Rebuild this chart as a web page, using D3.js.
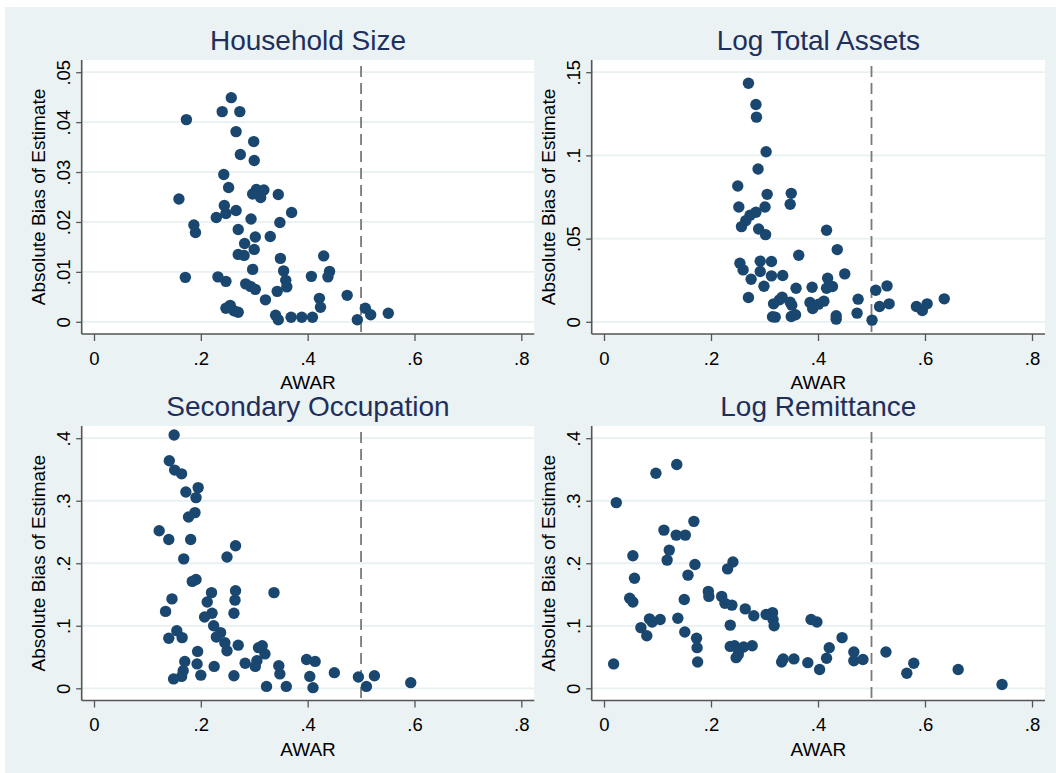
<!DOCTYPE html>
<html>
<head>
<meta charset="utf-8">
<script src="https://cdn.jsdelivr.net/npm/d3@7"></script>
<style>
  html, body { margin: 0; padding: 0; background: #ffffff; }
  svg { display: block; }
  text { font-family: "Liberation Sans", Arial, Helvetica, sans-serif; }
</style>
</head>
<body>
<svg id="chart" width="1056" height="773"></svg>
<script>
// ---------------- DATA ----------------
const panelTitles = ["Household Size", "Log Total Assets", "Secondary Occupation", "Log Remittance"];
const xTickValues = [0, 0.2, 0.4, 0.6, 0.8];
const xTickLabels = ["0", ".2", ".4", ".6", ".8"];
const yTicksHousehold = [0, 0.01, 0.02, 0.03, 0.04, 0.05];
const yLabelsHousehold = ["0", ".01", ".02", ".03", ".04", ".05"];
const yTicksAssets = [0, 0.05, 0.1, 0.15];
const yLabelsAssets = ["0", ".05", ".1", ".15"];
const yTicksOccupation = [0, 0.1, 0.2, 0.3, 0.4];
const yLabelsOccupation = ["0", ".1", ".2", ".3", ".4"];
const yTicksRemittance = [0, 0.1, 0.2, 0.3, 0.4];
const yLabelsRemittance = ["0", ".1", ".2", ".3", ".4"];
const referenceLine = 0.5;
const xAxisTitle = "AWAR";
const yAxisTitle = "Absolute Bias of Estimate";

const householdSize = [
  [0.257,0.0449],[0.240,0.0421],[0.273,0.0421],[0.173,0.0405],[0.266,0.0381],[0.299,0.0361],
  [0.274,0.0335],[0.300,0.0323],[0.243,0.0295],[0.252,0.0269],[0.304,0.0265],[0.318,0.0264],
  [0.297,0.0256],[0.312,0.0249],[0.345,0.0255],[0.159,0.0246],[0.244,0.0233],[0.247,0.0217],
  [0.266,0.0223],[0.229,0.0209],[0.294,0.0206],[0.370,0.0219],[0.348,0.0199],[0.187,0.0194],
  [0.190,0.0179],[0.270,0.0185],[0.302,0.0170],[0.330,0.0171],[0.282,0.0157],[0.300,0.0145],
  [0.270,0.0135],[0.281,0.0133],[0.349,0.0127],[0.430,0.0132],[0.297,0.0105],[0.355,0.0102],
  [0.441,0.0101],[0.438,0.0090],[0.171,0.0089],[0.232,0.0090],[0.247,0.0081],[0.407,0.0091],
  [0.359,0.0083],[0.361,0.0070],[0.284,0.0076],[0.293,0.0071],[0.302,0.0065],[0.343,0.0061],
  [0.474,0.0053],[0.321,0.0044],[0.422,0.0047],[0.424,0.0029],[0.247,0.0027],[0.255,0.0033],
  [0.262,0.0022],[0.270,0.0019],[0.340,0.0013],[0.345,0.0004],[0.369,0.0009],[0.389,0.0009],
  [0.409,0.0009],[0.493,0.0004],[0.508,0.0027],[0.518,0.0014],[0.551,0.0017]
];
const logTotalAssets = [
  [0.270,0.1434],[0.284,0.1306],[0.285,0.1230],[0.303,0.1022],[0.288,0.0918],[0.250,0.0816],
  [0.305,0.0766],[0.350,0.0772],[0.348,0.0706],[0.252,0.0690],[0.301,0.0690],[0.284,0.0658],
  [0.273,0.0640],[0.265,0.0608],[0.257,0.0572],[0.289,0.0558],[0.302,0.0524],[0.416,0.0550],
  [0.436,0.0434],[0.364,0.0400],[0.254,0.0352],[0.260,0.0312],[0.292,0.0364],[0.313,0.0362],
  [0.292,0.0302],[0.275,0.0256],[0.313,0.0276],[0.334,0.0278],[0.450,0.0288],[0.299,0.0214],
  [0.418,0.0262],[0.416,0.0202],[0.427,0.0212],[0.389,0.0208],[0.359,0.0202],[0.270,0.0146],
  [0.333,0.0148],[0.328,0.0132],[0.348,0.0118],[0.317,0.0108],[0.315,0.0030],[0.320,0.0028],
  [0.350,0.0032],[0.358,0.0042],[0.351,0.0100],[0.385,0.0116],[0.390,0.0080],[0.401,0.0106],
  [0.411,0.0124],[0.434,0.0036],[0.434,0.0016],[0.475,0.0136],[0.473,0.0052],[0.501,0.0010],
  [0.508,0.0190],[0.515,0.0092],[0.529,0.0216],[0.533,0.0108],[0.584,0.0092],[0.595,0.0068],
  [0.604,0.0108],[0.636,0.0138]
];
const secondaryOccupation = [
  [0.150,0.405],[0.141,0.364],[0.151,0.349],[0.164,0.343],[0.195,0.321],[0.172,0.314],
  [0.191,0.305],[0.189,0.281],[0.177,0.274],[0.122,0.252],[0.140,0.238],[0.181,0.238],
  [0.265,0.228],[0.249,0.210],[0.168,0.207],[0.191,0.174],[0.184,0.171],[0.265,0.156],
  [0.337,0.153],[0.220,0.153],[0.264,0.141],[0.146,0.143],[0.212,0.138],[0.134,0.123],
  [0.262,0.120],[0.221,0.120],[0.207,0.114],[0.224,0.100],[0.237,0.089],[0.229,0.082],
  [0.155,0.092],[0.140,0.080],[0.165,0.081],[0.245,0.073],[0.249,0.060],[0.270,0.069],
  [0.194,0.059],[0.308,0.065],[0.315,0.068],[0.320,0.055],[0.170,0.043],[0.193,0.039],
  [0.225,0.035],[0.283,0.040],[0.305,0.044],[0.302,0.035],[0.346,0.036],[0.348,0.023],
  [0.398,0.046],[0.414,0.043],[0.167,0.028],[0.164,0.019],[0.149,0.015],[0.200,0.021],
  [0.262,0.020],[0.323,0.003],[0.360,0.003],[0.404,0.019],[0.410,0.001],[0.450,0.025],
  [0.495,0.018],[0.510,0.003],[0.525,0.020],[0.593,0.009]
];
const logRemittance = [
  [0.136,0.358],[0.097,0.344],[0.023,0.297],[0.168,0.267],[0.112,0.253],[0.135,0.245],
  [0.152,0.245],[0.122,0.221],[0.118,0.205],[0.054,0.212],[0.170,0.198],[0.241,0.202],
  [0.231,0.191],[0.057,0.176],[0.157,0.181],[0.048,0.144],[0.054,0.138],[0.150,0.142],
  [0.195,0.155],[0.196,0.147],[0.220,0.147],[0.226,0.136],[0.239,0.133],[0.264,0.127],
  [0.280,0.116],[0.303,0.118],[0.315,0.121],[0.316,0.110],[0.318,0.100],[0.085,0.111],
  [0.090,0.106],[0.105,0.110],[0.138,0.112],[0.069,0.097],[0.080,0.084],[0.151,0.090],
  [0.236,0.101],[0.387,0.110],[0.398,0.106],[0.173,0.080],[0.174,0.065],[0.175,0.042],
  [0.018,0.039],[0.236,0.067],[0.244,0.068],[0.252,0.061],[0.261,0.066],[0.277,0.068],
  [0.247,0.049],[0.251,0.054],[0.445,0.081],[0.421,0.065],[0.416,0.048],[0.467,0.058],
  [0.467,0.044],[0.484,0.046],[0.332,0.042],[0.335,0.047],[0.355,0.047],[0.381,0.041],
  [0.403,0.030],[0.527,0.058],[0.579,0.040],[0.566,0.024],[0.662,0.030],[0.744,0.006]
];

// ---------------- LAYOUT / STYLE ----------------
const W = 1056, H = 773;
const bgColor = "#EAF2F3";
const dotColor = "#1A476F";
const titleColor = "#1E2F5C";
const axisColor = "#555555";
const gridColor = "#E8F0F2";

const panels = [
  { title: panelTitles[0], data: householdSize,       yTicks: yTicksHousehold,  yLabels: yLabelsHousehold,  left: 81.7,  right: 534.3, top: 60,  bottom: 334 },
  { title: panelTitles[1], data: logTotalAssets,      yTicks: yTicksAssets,     yLabels: yLabelsAssets,     left: 591.7, right: 1045,  top: 60,  bottom: 334 },
  { title: panelTitles[2], data: secondaryOccupation, yTicks: yTicksOccupation, yLabels: yLabelsOccupation, left: 81.7,  right: 534.3, top: 426, bottom: 700.5 },
  { title: panelTitles[3], data: logRemittance,       yTicks: yTicksRemittance, yLabels: yLabelsRemittance, left: 591.7, right: 1045,  top: 426, bottom: 700.5 }
];

const svg = d3.select("#chart");

// outer background (white strip on left/top as in reference)
svg.append("rect").attr("x", 0).attr("y", 0).attr("width", W).attr("height", H).attr("fill", "#ffffff");
svg.append("rect").attr("x", 5).attr("y", 7).attr("width", W - 5).attr("height", H - 7).attr("fill", bgColor);

panels.forEach(p => {
  const g = svg.append("g");
  const x = d3.scaleLinear().domain([0, 0.8]).range([p.left + 12.3, p.right - 13]);
  const yMax = p.yTicks[p.yTicks.length - 1];
  const y = d3.scaleLinear().domain([0, yMax]).range([p.bottom - 12.2, p.top + 12.2]);

  // plot region
  g.append("rect")
    .attr("x", p.left).attr("y", p.top)
    .attr("width", p.right - p.left).attr("height", p.bottom - p.top)
    .attr("fill", "#ffffff");

  // gridlines
  g.append("g").selectAll("line").data(p.yTicks).join("line")
    .attr("x1", p.left).attr("x2", p.right)
    .attr("y1", d => y(d)).attr("y2", d => y(d))
    .attr("stroke", gridColor).attr("stroke-width", 1.8);

  // reference line
  g.append("line")
    .attr("x1", x(referenceLine)).attr("x2", x(referenceLine))
    .attr("y1", p.top + 6).attr("y2", p.bottom)
    .attr("stroke", "#7a7a7a").attr("stroke-width", 1.8)
    .attr("stroke-dasharray", "11,6");

  // points
  g.append("g").selectAll("circle").data(p.data).join("circle")
    .attr("cx", d => x(d[0])).attr("cy", d => y(d[1]))
    .attr("r", 5.7).attr("fill", dotColor);

  // x axis
  const xAxis = d3.axisBottom(x).tickValues(xTickValues)
    .tickFormat((d, i) => xTickLabels[i]).tickSizeOuter(0).tickSizeInner(7);
  const xg = g.append("g").attr("transform", `translate(0,${p.bottom})`).call(xAxis);
  xg.select(".domain").remove();
  xg.selectAll(".tick line").attr("stroke", axisColor).attr("stroke-width", 1.3);
  xg.selectAll(".tick text").attr("y", 30.5).attr("dy", "0")
    .attr("font-size", 18.5).attr("fill", "#000").attr("font-family", "'Liberation Sans', Arial, sans-serif");
  g.append("line").attr("x1", p.left).attr("x2", p.right)
    .attr("y1", p.bottom).attr("y2", p.bottom)
    .attr("stroke", axisColor).attr("stroke-width", 1.6);

  // y axis
  const yAxis = d3.axisLeft(y).tickValues(p.yTicks)
    .tickFormat((d, i) => p.yLabels[i]).tickSizeOuter(0).tickSizeInner(5.5);
  const yg = g.append("g").attr("transform", `translate(${p.left},0)`).call(yAxis);
  yg.select(".domain").remove();
  yg.selectAll(".tick line").attr("stroke", axisColor).attr("stroke-width", 1.3);
  yg.selectAll(".tick text")
    .attr("transform", "rotate(-90)")
    .attr("x", 0).attr("y", -11.5).attr("dy", "0")
    .attr("text-anchor", "middle")
    .attr("font-size", 18.5).attr("fill", "#000").attr("font-family", "'Liberation Sans', Arial, sans-serif");
  g.append("line").attr("x1", p.left).attr("x2", p.left)
    .attr("y1", p.top).attr("y2", p.bottom)
    .attr("stroke", axisColor).attr("stroke-width", 1.6);

  // axis titles
  g.append("text")
    .attr("x", (p.left + p.right) / 2).attr("y", p.bottom + 55)
    .attr("text-anchor", "middle").attr("font-size", 19).attr("fill", "#000")
    .text(xAxisTitle);
  g.append("text")
    .attr("transform", `translate(${p.left - 36.5},${(p.top + p.bottom) / 2}) rotate(-90)`)
    .attr("text-anchor", "middle").attr("font-size", 19).attr("fill", "#000")
    .text(yAxisTitle);

  // panel title
  g.append("text")
    .attr("x", (p.left + p.right) / 2).attr("y", p.top - 10)
    .attr("text-anchor", "middle").attr("font-size", 28).attr("fill", titleColor)
    .text(p.title);
});
</script>
</body>
</html>
